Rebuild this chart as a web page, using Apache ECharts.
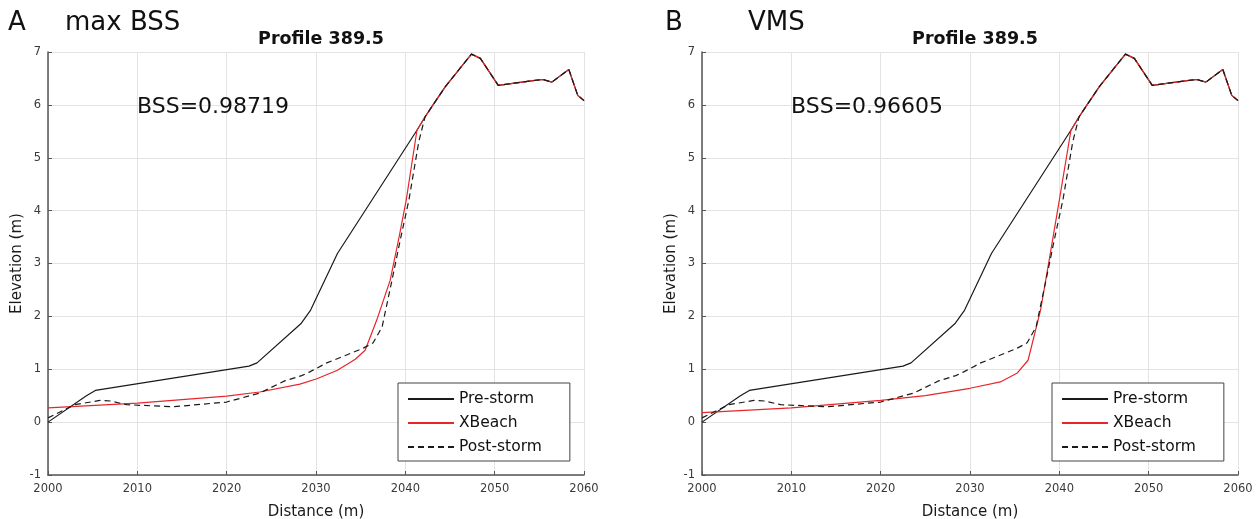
<!DOCTYPE html>
<html>
<head>
<meta charset="utf-8">
<script src="https://cdn.jsdelivr.net/npm/echarts@6/dist/echarts.min.js"></script>
<style>
  html, body { margin: 0; padding: 0; background: #fff; }
  #main { width: 1260px; height: 519px; }
</style>
</head>
<body>
<div id="main"></div>
<script>
// measured profile shared by every line above the scarp
var upperProfile = [[2041.3, 5.52], [2042.2, 5.77], [2043.1, 6.0], [2044.5, 6.35], [2047.4, 6.96], [2048.4, 6.88],
  [2050.4, 6.37], [2054.3, 6.46], [2055.4, 6.48], [2056.4, 6.43], [2058.3, 6.67], [2059.3, 6.18], [2060, 6.08]];

var preStorm = [[2000, 0], [2004.3, 0.5], [2005.3, 0.6], [2022.5, 1.06], [2023.4, 1.12], [2028.3, 1.86],
  [2029.4, 2.12], [2032.4, 3.19]].concat(upperProfile);

var postStorm = [[2000, 0.08], [2003, 0.33], [2005.8, 0.41], [2007, 0.4], [2008.8, 0.33], [2014, 0.29],
  [2020, 0.38], [2023.7, 0.55], [2026.5, 0.78], [2028.4, 0.88], [2029.3, 0.95], [2031.2, 1.12], [2033, 1.24],
  [2035.3, 1.4], [2036.4, 1.5], [2037.4, 1.8], [2038.5, 2.68], [2039.5, 3.5], [2040.4, 4.2], [2041.5, 5.3],
  [2042.2, 5.77]].concat(upperProfile.slice(2));

var xbeachBSS = [[2000, 0.27], [2010, 0.36], [2020, 0.49], [2023.7, 0.57], [2028.2, 0.72], [2030.1, 0.82],
  [2032.4, 0.98], [2034.4, 1.19], [2035.5, 1.36], [2036.8, 1.93], [2038.3, 2.68], [2039.3, 3.5],
  [2040.1, 4.2]].concat(upperProfile);

var xbeachVMS = [[2000, 0.18], [2010, 0.27], [2020, 0.41], [2025, 0.5], [2030, 0.64], [2033.4, 0.76],
  [2035.3, 0.93], [2036.5, 1.17], [2037.9, 2.12], [2039, 3.2], [2040, 4.2]].concat(upperProfile);

var panelLetters = ['A', 'B'];
var panelNames = ['max BSS', 'VMS'];
var bssScores = ['0.98719', '0.96605'];
var seriesNames = ['Pre-storm', 'XBeach', 'Post-storm'];

var font = 'DejaVu Sans';
var gridLefts = [48, 702];
var plotW = 536;

function makeX(i) {
  return {
    gridIndex: i, type: 'value', min: 2000, max: 2060, interval: 10,
    name: 'Distance (m)', nameLocation: 'middle', nameGap: 30,
    nameTextStyle: { fontFamily: font, fontSize: 15, color: '#1a1a1a' },
    axisLine: { onZero: false, lineStyle: { color: '#555', width: 1.5 } },
    axisTick: { inside: true, length: 4, lineStyle: { color: '#555' } },
    axisLabel: { fontFamily: font, fontSize: 11.5, color: '#3a3a3a', margin: 8,
      formatter: function (v) { return String(v); } },
    splitLine: { show: true, lineStyle: { color: '#e3e3e3' } }
  };
}
function makeY(i) {
  return {
    gridIndex: i, type: 'value', min: -1, max: 7, interval: 1,
    name: 'Elevation (m)', nameLocation: 'middle', nameGap: 23,
    nameTextStyle: { fontFamily: font, fontSize: 15, color: '#1a1a1a' },
    axisLine: { show: true, onZero: false, lineStyle: { color: '#555', width: 1.5 } },
    axisTick: { show: true, inside: true, length: 4, lineStyle: { color: '#555' } },
    axisLabel: { fontFamily: font, fontSize: 11.5, color: '#3a3a3a', margin: 7 },
    splitLine: { show: true, lineStyle: { color: '#e3e3e3' } }
  };
}
function line(name, data, i, color, dash) {
  return {
    name: name, type: 'line', xAxisIndex: i, yAxisIndex: i, data: data,
    symbol: 'none', smooth: false, silent: true,
    lineStyle: { color: color, width: 1.2, type: dash ? [6, 4] : 'solid' },
    itemStyle: { color: color }
  };
}

var titles = [];
var legends = [];
for (var i = 0; i < 2; i++) {
  var gl = gridLefts[i];
  titles.push({ text: panelLetters[i], left: i === 0 ? 3 : 660, top: 5,
    textStyle: { fontFamily: font, fontSize: 26, fontWeight: 'normal', color: '#111' } });
  titles.push({ text: panelNames[i], left: i === 0 ? 60 : 743, top: 5,
    textStyle: { fontFamily: font, fontSize: 26, fontWeight: 'normal', color: '#111' } });
  titles.push({ text: 'Profile 389.5', left: gl + plotW / 2, textAlign: 'center', top: 25,
    textStyle: { fontFamily: font, fontSize: 17.5, fontWeight: 'bold', color: '#111' } });
  titles.push({ text: 'BSS=' + bssScores[i], left: gl + 84, top: 91,
    textStyle: { fontFamily: font, fontSize: 22, fontWeight: 'normal', color: '#111' } });
  legends.push({
    data: seriesNames, orient: 'vertical', left: gl + 350, top: 383,
    padding: [8, 28, 6, 9], itemGap: 8, itemWidth: 46, itemHeight: 15,
    borderColor: '#444', borderWidth: 1, backgroundColor: '#fff',
    selectedMode: false,
    itemStyle: { opacity: 0 },
    textStyle: { fontFamily: font, fontSize: 15.5, color: '#111' }
  });
}

var chart = echarts.init(document.getElementById('main'));
chart.setOption({
  animation: false,
  title: titles,
  legend: legends,
  grid: [
    { left: gridLefts[0], top: 52, width: plotW, height: 423, containLabel: false, outerBoundsMode: 'none' },
    { left: gridLefts[1], top: 52, width: plotW, height: 423, containLabel: false, outerBoundsMode: 'none' }
  ],
  xAxis: [makeX(0), makeX(1)],
  yAxis: [makeY(0), makeY(1)],
  series: [
    line('Pre-storm', preStorm, 0, '#1a1a1a', false),
    line('XBeach', xbeachBSS, 0, '#e8262a', false),
    line('Post-storm', postStorm, 0, '#1a1a1a', true),
    line('Pre-storm', preStorm, 1, '#1a1a1a', false),
    line('XBeach', xbeachVMS, 1, '#e8262a', false),
    line('Post-storm', postStorm, 1, '#1a1a1a', true)
  ]
});
</script>
</body>
</html>
